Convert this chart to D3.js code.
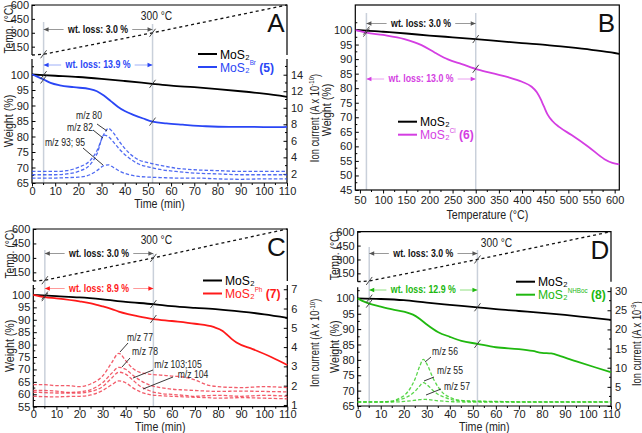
<!DOCTYPE html>
<html><head><meta charset="utf-8">
<script src="https://cdn.jsdelivr.net/npm/d3@7"></script>
<style>body{margin:0;background:#fff}svg{display:block;font-family:"Liberation Sans",Arial,sans-serif}</style>
</head><body><svg id="c" width="642" height="433"></svg>
<script>
// ---------------- DATA ----------------
// Temperature programme (shared by time panels)
const rampTime = [0, 5, 52, 110];
const rampTemp = [45, 68, 300, 600];
const tempTicks = [150, 300, 450, 600];
const timeTicks = [0,10,20,30,40,50,60,70,80,90,100,110];

// Panel A
const mos2TimeA = [0,10,20,30,40,52,60,70,80,90,100,110];
const mos2A = [100,99.6,99.2,98.6,97.9,97.0,96.4,95.9,95.3,94.6,93.8,92.8];
const brTimeA = [0,2,5,8,12,18,25,28,31,34,37,40,44,48,52,58,65,75,85,95,105,110];
const brA = [100,99.4,98.4,97.3,96.5,95.9,95.3,94.6,93.2,91.4,89.6,88.2,86.9,85.8,84.8,84.2,83.8,83.3,83.1,83.1,83.0,83.1];
const ionTimeA = [0,10,15,20,25,28,31,33,35,38,42,46,51,56,62,70,80,90,100,110];
const mz80 = [2.3,2.3,2.4,2.8,3.6,4.8,6.8,7.5,7.0,5.8,4.5,3.7,3.3,3.0,2.7,2.5,2.4,2.3,2.3,2.3];
const mz82 = [1.9,1.9,2.0,2.3,3.1,4.4,6.7,6.5,5.9,4.9,3.9,3.2,2.8,2.5,2.3,2.1,2.0,1.9,1.9,1.9];
const mz93 = [1.5,1.5,1.55,1.6,1.9,2.4,3.0,3.1,2.8,2.3,1.9,1.7,1.6,1.55,1.5,1.5,1.4,1.35,1.4,1.4];
const weightTicksA = [65,70,75,80,85,90,95,100];
const ionTicksA = [2,4,6,8,10,12,14];

// Panel B
const mos2TempB = [41,65,100,150,200,250,300,350,400,450,500,550,600,610];
const mos2B = [100,99.8,99.4,98.8,98.1,97.5,96.9,96.2,95.5,94.9,94.1,93.2,92.1,91.8];
const clTempB = [41,50,64,100,146,183,212,240,270,305,340,370,400,420,432,440,447,455,465,480,507,543,578,595,610];
const clB = [100,99.6,99.1,98.3,96.9,94.8,92.2,89.9,88.3,86.4,85.0,83.8,82.2,80.6,78.6,76.3,73.8,71.0,68.8,66.7,63.9,59.9,55.6,54.3,53.8];
const tempTicksB = [50,100,150,200,250,300,350,400,450,500,550,600];
const weightTicksB = [45,50,55,60,65,70,75,80,85,90,95,100];

// Panel C
const mos2TimeC = [0,10,20,30,40,52,60,70,80,90,100,110];
const mos2C = [100,99.5,99.0,98.2,97.2,96.3,95.5,94.8,94.2,93.3,92.2,90.8];
const phTimeC = [0,5,10,20,25,30,34,37,41,45,52,60,70,78,82,84,86,88,95,103,110];
const phC = [100,99.1,98.6,97.4,96.6,95.4,94.3,93.3,92.3,91.5,90.3,89.5,88.4,87.1,85.5,83.9,82.2,80.8,78.2,75.0,71.8];
const ionTimeC = [0,5,10,15,20,25,30,34,37,40,43,46,50,55,60,65,70,75,80,90,100,110];
const mz77 = [2.05,2.05,2.0,2.0,1.95,2.1,2.5,3.2,3.68,3.3,2.9,2.7,2.6,2.55,2.5,2.45,2.3,2.05,1.95,1.9,1.95,1.9];
const mz78 = [1.75,1.75,1.72,1.65,1.68,1.8,2.15,2.65,2.95,2.85,2.55,2.3,2.05,1.9,1.82,1.78,1.75,1.72,1.7,1.72,1.7,1.68];
const mz103 = [1.66,1.64,1.62,1.62,1.62,1.7,1.95,2.4,2.7,2.6,2.3,2.0,1.75,1.6,1.55,1.5,1.45,1.48,1.5,1.45,1.5,1.45];
const mz104 = [1.45,1.43,1.42,1.44,1.45,1.52,1.75,2.05,2.25,2.15,1.9,1.7,1.55,1.48,1.45,1.42,1.4,1.38,1.35,1.38,1.35,1.32];
const weightTicksC = [55,60,65,70,75,80,85,90,95,100];
const ionTicksC = [1,2,3,4,5,6,7];

// Panel D
const mos2TimeD = [0,10,20,30,40,52,60,70,80,90,100,110];
const mos2D = [100,99.8,99.4,98.6,97.9,97.1,96.5,95.9,95.3,94.6,93.8,93.0];
const bocTimeD = [0,2,5,10,15,20,24,27,30,35,40,45,52,60,70,76,80,84,88,95,103,110];
const bocD = [100,99.2,98.3,97.3,96.4,95.7,94.7,93.3,91.5,89.0,87.5,86.2,85.2,84.1,83.5,82.9,82.3,82.1,81.2,79.5,77.6,76.0];
const ionTimeD = [0,10,15,18,20.5,23,25,27,28.5,30,32.8,35,37.2,40,42.2,46,50,60,70,80,90,100,110];
const mz56 = [1.1,1.1,1.3,2.0,2.9,4.8,7.2,10.5,12.2,11.0,7.2,4.9,3.3,2.3,1.75,1.4,1.3,1.2,1.1,1.1,1.1,1.1,1.1];
const mz55 = [1.1,1.1,1.2,1.6,2.1,2.9,3.9,5.3,6.1,5.6,4.0,3.0,2.4,1.8,1.5,1.3,1.2,1.15,1.1,1.1,1.1,1.1,1.1];
const mz57 = [1.0,1.0,1.05,1.1,1.2,1.35,1.5,1.65,1.75,1.7,1.5,1.35,1.25,1.15,1.1,1.05,1.05,1.0,1.0,1.0,1.0,1.0,1.0];
const weightTicksD = [65,70,75,80,85,90,95,100];
const ionTicksD = [0,5,10,15,20,25,30];

// ---------------- DRAWING ----------------
const svg = d3.select("#c");
const zip = (a, b) => a.map((v, i) => [v, b[i]]);
const TICK_FS = 11;

// condensed text helper: horizontal squeeze along the text direction
function ntext(x, y, fs, opts = {}) {
  const g = svg.append("g").attr("transform", `translate(${x},${y}) rotate(${opts.rot || 0}) scale(${opts.sx || 0.82},1)`);
  const t = g.append("text").attr("text-anchor", opts.anchor || "middle").style("font-size", fs + "px")
    .attr("fill", opts.fill || "#222");
  if (opts.bold) t.style("font-weight", "bold");
  return t;
}
function styleAxis(g, fs) {
  g.select(".domain").remove();
  g.selectAll(".tick line").attr("stroke", "#000");
  g.selectAll("text").attr("font-size", fs).attr("fill", "#222");
}
function minorTicks(g, scale, vals, orient, len) {
  vals.forEach(v => {
    const p = scale(v);
    if (orient === "left") g.append("line").attr("x1", 0).attr("x2", len).attr("y1", p).attr("y2", p);
    if (orient === "right") g.append("line").attr("x1", 0).attr("x2", -len).attr("y1", p).attr("y2", p);
    if (orient === "bottom") g.append("line").attr("y1", 0).attr("y2", 2).attr("x1", p).attr("x2", p);
  });
  g.selectAll("line").attr("stroke", "#000");
}
function arrow(xa, xb, y, lineCol, headCol, text, textCol) {
  svg.append("line").attr("x1", xa).attr("x2", xb).attr("y1", y).attr("y2", y).attr("stroke", lineCol).attr("stroke-width", 1);
  svg.append("path").attr("d", `M${xa},${y}l5,-2.2v4.4z M${xb},${y}l-5,-2.2v4.4z`).attr("fill", headCol);
  const t = ntext((xa + xb) / 2, y + 3.4, 10, {bold: true, fill: textCol, sx: 0.88}).text(text);
  const bb = t.node().getBBox();
  d3.select(t.node().parentNode).insert("rect", "text").attr("x", bb.x - 4).attr("y", bb.y).attr("width", bb.width + 8).attr("height", bb.height).attr("fill", "#fff");
}
function brk(px, py) {
  svg.append("line").attr("x1", px - 3).attr("y1", py + 4).attr("x2", px + 3).attr("y2", py - 4)
    .attr("stroke", "#333").attr("stroke-width", 0.9);
}
function mosText(x, y, sup, num, col) {
  const t = ntext(x, y, 13.5, {anchor: "start", fill: col, sx: 0.9});
  t.append("tspan").text("MoS₂");
  if (sup) {
    t.append("tspan").style("font-size", "7px").attr("dy", -6.5).text(sup);
    t.append("tspan").style("font-size", "13.5px").style("font-weight", "bold").attr("dy", 6.5).text(" " + num);
  }
}
function legend(x, y, col, sup, num) {
  svg.append("line").attr("x1", x).attr("x2", x + 19).attr("y1", y).attr("y2", y).attr("stroke", "#000").attr("stroke-width", 2);
  mosText(x + 22, y + 4.5, null, null, "#000");
  svg.append("line").attr("x1", x).attr("x2", x + 19).attr("y1", y + 13).attr("y2", y + 13).attr("stroke", col).attr("stroke-width", 2);
  mosText(x + 22, y + 17.5, sup, num, col);
}
function rotLabel(x, y, parts, fs, sx) {
  const t = ntext(x, y, fs, {rot: -90, sx: sx || 0.82});
  parts.forEach(p => {
    const s = t.append("tspan").text(p.t);
    if (p.sup) s.style("font-size", (fs * 0.65) + "px").attr("dy", -fs * 0.4);
    if (p.down) s.attr("dy", fs * 0.4);
  });
}

function timePanel(c) {
  const x = d3.scaleLinear().domain([0, 110]).range([c.x0, c.x1]);
  const yT = d3.scaleLinear().domain([60, 600]).range([c.tBot, c.tTop]).clamp(true);
  const yW = d3.scaleLinear().domain(c.wDomain).range([c.wBot, c.wTop]);
  const yR = d3.scaleLinear().domain(c.rDomain).range([c.wBot, c.wTop]);

  // guide lines
  [5, 52].forEach((t, i) => svg.append("line").attr("x1", x(t)).attr("x2", x(t)).attr("y1", c.guideTop[i]).attr("y2", c.wBot)
    .attr("stroke", "#c9d0da").attr("stroke-width", 1.5));

  // frames
  svg.append("path").attr("d", `M${c.x0},${c.tBot}V${c.tTop}H${c.x1}V${c.tBot}`).attr("fill", "none").attr("stroke", "#000").attr("stroke-width", 1.2);
  svg.append("path").attr("d", `M${c.x0},${c.wTop}V${c.wBot}H${c.x1}V${c.wTop}`).attr("fill", "none").attr("stroke", "#000").attr("stroke-width", 1.2);

  // axes
  const gT = svg.append("g").attr("transform", `translate(${c.x0},0)`)
    .call(d3.axisLeft(yT).tickValues(tempTicks).tickSizeInner(-3).tickSizeOuter(0).tickPadding(3));
  styleAxis(gT, TICK_FS);
  const gW = svg.append("g").attr("transform", `translate(${c.x0},0)`)
    .call(d3.axisLeft(yW).tickValues(c.wTicks).tickSizeInner(-3.5).tickSizeOuter(0).tickPadding(3));
  styleAxis(gW, TICK_FS);
  minorTicks(svg.append("g").attr("transform", `translate(${c.x0},0)`), yW, c.wTicks.map(v => v + 2.5).filter(v => v < c.wDomain[1]), "left", 2);
  const gR = svg.append("g").attr("transform", `translate(${c.x1},0)`)
    .call(d3.axisRight(yR).tickValues(c.rTicks).tickFormat(d3.format("d")).tickSizeInner(-3.5).tickSizeOuter(0).tickPadding(4));
  styleAxis(gR, TICK_FS);
  minorTicks(svg.append("g").attr("transform", `translate(${c.x1},0)`), yR, c.rMinor, "right", 2);
  const gX = svg.append("g").attr("transform", `translate(0,${c.wBot})`)
    .call(d3.axisBottom(x).tickValues(timeTicks).tickSizeInner(3.5).tickSizeOuter(0).tickPadding(0.5));
  styleAxis(gX, TICK_FS);
  minorTicks(svg.append("g").attr("transform", `translate(0,${c.wBot})`), x, timeTicks.slice(0, -1).map(v => v + 5), "bottom", 2);

  // ion currents
  const lineR = d3.line().x(d => x(d[0])).y(d => yR(d[1])).curve(d3.curveMonotoneX);
  c.ions.forEach(s => svg.append("path").attr("d", lineR(zip(c.ionTime, s))).attr("fill", "none")
    .attr("stroke", c.ionColor).attr("stroke-width", 1.3).attr("stroke-dasharray", "3.5,2").attr("opacity", 0.85));

  // temperature ramp
  const lineT = d3.line().x(d => x(d[0])).y(d => yT(d[1]));
  svg.append("path").attr("d", lineT(zip(rampTime, rampTemp))).attr("fill", "none").attr("stroke", "#111")
    .attr("stroke-width", 1.3).attr("stroke-dasharray", "3,3");

  // weight curves
  const lineW = d3.line().x(d => x(d[0])).y(d => yW(d[1])).curve(d3.curveMonotoneX);
  svg.append("path").attr("d", lineW(zip(c.mos2T, c.mos2W))).attr("fill", "none").attr("stroke", "#000").attr("stroke-width", 1.8);
  svg.append("path").attr("d", lineW(zip(c.sT, c.sW))).attr("fill", "none").attr("stroke", c.color).attr("stroke-width", 1.8);

  // break marks
  [5, 52].forEach(t => {
    brk(x(t), yT(d3.scaleLinear().domain(rampTime.slice(1, 3)).range(rampTemp.slice(1, 3))(t)));
    brk(x(t), yW(d3.scaleLinear().domain(c.mos2T).range(c.mos2W)(t)));
    brk(x(t), yW(d3.scaleLinear().domain(c.sT).range(c.sW)(t)));
  });

  // annotations
  arrow(x(5), x(52), c.arrowY[0], "#999", "#555", "wt. loss: 3.0 %", "#111");
  arrow(x(5), x(52), c.arrowY[1], c.lightColor, c.color, c.lossText, c.color);
  ntext(x(52) + c.tempLabelDx, c.tTop + 15, 12.5).text("300 °C");
  svg.append("text").attr("x", c.x1 - 11).attr("y", c.tTop + 27).attr("text-anchor", "middle").attr("font-size", 26).attr("fill", "#111").text(c.letter);
  legend(c.legX, c.legY, c.color, c.sup, c.num);
  c.notes.forEach(n => {
    ntext(n.tx, n.ty, 10.5).text(n.text);
    svg.append("line").attr("x1", n.l[0]).attr("y1", n.l[1]).attr("x2", n.l[2]).attr("y2", n.l[3]).attr("stroke", "#222").attr("stroke-width", 0.9);
  });

  // titles
  rotLabel(c.x0 - 19, (c.tTop + c.tBot) / 2 - 1, [{t: "Temp. (°C)"}], 12.5);
  rotLabel(c.x0 - 19, (c.wTop + c.wBot) / 2, [{t: "Weight (%)"}], 13);
  rotLabel(c.x1 + c.rLabelDx, (c.wTop + c.wBot) / 2 - 3, [{t: "Ion current (A x 10"}, {t: c.exp, sup: true}, {t: ")", down: true}], 12, 0.78);
  ntext((c.x0 + c.x1) / 2, c.wBot + 24.5, 13).text("Time (min)");
}

// Panel A
timePanel({
  x0: 32, x1: 287, tTop: 5, tBot: 55, wTop: 59, wBot: 183,
  wDomain: [65, 105], wTicks: weightTicksA, rDomain: [0.9, 15.9], rTicks: ionTicksA, rMinor: [3,5,7,9,11,13,15],
  guideTop: [22, 24], arrowY: [29.5, 65], rLabelDx: 32, tempLabelDx: 4,
  mos2T: mos2TimeA, mos2W: mos2A, sT: brTimeA, sW: brA,
  ionTime: ionTimeA, ions: [mz80, mz82, mz93], ionColor: "#3050f0",
  color: "#2a46f5", lightColor: "#9fb0f8", lossText: "wt. loss: 13.9 %",
  letter: "A", legX: 198, legY: 54, sup: "Br", num: "(5)", exp: "-10",
  notes: [
    {text: "m/z 80", tx: 89, ty: 119, l: [97, 124, 107, 131]},
    {text: "m/z 82", tx: 80, ty: 131, l: [93, 130, 103, 138]},
    {text: "m/z 93; 95", tx: 65, ty: 146, l: [83, 148, 103, 165]}
  ]
});

// Panel C
timePanel({
  x0: 33.3, x1: 287.3, tTop: 229, tBot: 281, wTop: 285, wBot: 406.7,
  wDomain: [55, 104], wTicks: weightTicksC, rDomain: [0.91, 7.22], rTicks: ionTicksC, rMinor: [1.5,2.5,3.5,4.5,5.5,6.5],
  guideTop: [250, 254], arrowY: [253.5, 288.5], rLabelDx: 32, tempLabelDx: 3,
  mos2T: mos2TimeC, mos2W: mos2C, sT: phTimeC, sW: phC,
  ionTime: ionTimeC, ions: [mz77, mz78, mz103, mz104], ionColor: "#f04050",
  color: "#ff1a1a", lightColor: "#ff9a9a", lossText: "wt. loss: 8.9 %",
  letter: "C", legX: 203, legY: 280.5, sup: "Ph", num: "(7)", exp: "-10",
  notes: [
    {text: "m/z 77", tx: 140, ty: 340.5, l: [128, 343, 120, 352]},
    {text: "m/z 78", tx: 145, ty: 355, l: [130, 358, 122, 367]},
    {text: "m/z 103;105", tx: 178, ty: 367.5, l: [153, 370, 133, 378]},
    {text: "m/z 104", tx: 193, ty: 377.5, l: [173, 377, 143, 389]}
  ]
});

// Panel D
timePanel({
  x0: 357.7, x1: 611, tTop: 231.7, tBot: 281.7, wTop: 287.3, wBot: 406,
  wDomain: [65, 103.6], wTicks: weightTicksD, rDomain: [0, 31], rTicks: ionTicksD, rMinor: [2.5,7.5,12.5,17.5,22.5,27.5],
  guideTop: [247, 250], arrowY: [253.5, 290], rLabelDx: 29.5, tempLabelDx: 19,
  mos2T: mos2TimeD, mos2W: mos2D, sT: bocTimeD, sW: bocD,
  ionTime: ionTimeD, ions: [mz56, mz55, mz57], ionColor: "#3ccf2a",
  color: "#20b810", lightColor: "#90e080", lossText: "wt. loss: 12.9 %",
  letter: "D", legX: 516, legY: 281.7, sup: "NHBoc", num: "(8)", exp: "-9",
  notes: [
    {text: "m/z 56", tx: 445, ty: 355, l: [431, 357, 425, 362]},
    {text: "m/z 55", tx: 450, ty: 374, l: [434, 377, 424, 381]},
    {text: "m/z 57", tx: 457, ty: 390, l: [441, 389, 426, 395]}
  ]
});

// Panel B
(function () {
  const x0 = 355.3, x1 = 619.3, yTop = 5, yBot = 190;
  const color = "#d43ee2";
  const x = d3.scaleLinear().domain([40, 610]).range([x0, x1]);
  const y = d3.scaleLinear().domain([45, 108.6]).range([yBot, yTop]);
  [64, 300].forEach(t => svg.append("line").attr("x1", x(t)).attr("x2", x(t)).attr("y1", 13).attr("y2", yBot)
    .attr("stroke", "#c9d0da").attr("stroke-width", 1.5));
  svg.append("rect").attr("x", x0).attr("y", yTop).attr("width", x1 - x0).attr("height", yBot - yTop).attr("fill", "none").attr("stroke", "#000").attr("stroke-width", 1.2);
  const gY = svg.append("g").attr("transform", `translate(${x0},0)`)
    .call(d3.axisLeft(y).tickValues(weightTicksB).tickSizeInner(-3.5).tickSizeOuter(0).tickPadding(3));
  styleAxis(gY, TICK_FS);
  minorTicks(svg.append("g").attr("transform", `translate(${x0},0)`), y, weightTicksB.map(v => v + 2.5).filter(v => v < 108), "left", 2);
  const gX = svg.append("g").attr("transform", `translate(0,${yBot})`)
    .call(d3.axisBottom(x).tickValues(tempTicksB).tickSizeInner(3.5).tickSizeOuter(0).tickPadding(3));
  styleAxis(gX, TICK_FS);
  minorTicks(svg.append("g").attr("transform", `translate(0,${yBot})`), x, tempTicksB.slice(0, -1).map(v => v + 25), "bottom", 2);
  const line = d3.line().x(d => x(d[0])).y(d => y(d[1])).curve(d3.curveMonotoneX);
  svg.append("path").attr("d", line(zip(mos2TempB, mos2B))).attr("fill", "none").attr("stroke", "#000").attr("stroke-width", 1.8);
  svg.append("path").attr("d", line(zip(clTempB, clB))).attr("fill", "none").attr("stroke", color).attr("stroke-width", 1.8);
  [64, 300].forEach(t => {
    brk(x(t), y(d3.scaleLinear().domain(mos2TempB).range(mos2B)(t)));
    brk(x(t), y(d3.scaleLinear().domain(clTempB).range(clB)(t)));
  });
  arrow(x(64), x(300), 23.5, "#999", "#555", "wt. loss: 3.0 %", "#111");
  arrow(x(64), x(300), 79, "#eaa0f0", color, "wt. loss: 13.0 %", color);
  svg.append("text").attr("x", x1 - 13).attr("y", 32).attr("text-anchor", "middle").attr("font-size", 26).attr("fill", "#111").text("B");
  legend(398, 121.7, color, "Cl", "(6)");
  rotLabel(x0 - 24, 110, [{t: "Weight (%)"}], 13);
  ntext((x0 + x1) / 2, yBot + 29, 13).text("Temperature (°C)");
})();
</script>
</body></html>
